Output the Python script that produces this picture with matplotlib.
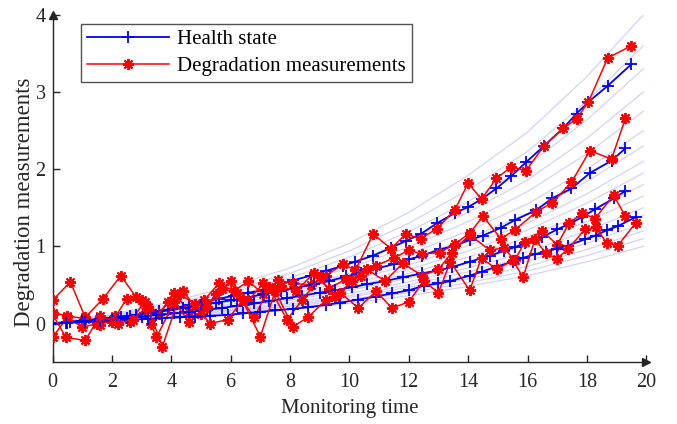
import matplotlib.pyplot as plt

plt.rcParams['font.family'] = ['Liberation Serif', 'DejaVu Serif']

# Faint simulated paths (sampled every 2 time units)
t_faint = [0, 2, 4, 6, 8, 10, 12, 14, 16, 18, 19.9]
faint_paths = [
    [0, .12, .28, .48, .72, 1.04, 1.44, 1.92, 2.48, 3.2, 4.0],
    [0, .11, .25, .43, .65, .94, 1.30, 1.73, 2.23, 2.88, 3.6],
    [0, .10, .23, .40, .59, .86, 1.19, 1.58, 2.05, 2.64, 3.3],
    [0, .09, .21, .36, .54, .78, 1.08, 1.44, 1.86, 2.4, 3.0],
    [0, .08, .19, .33, .50, .72, .99, 1.32, 1.71, 2.2, 2.75],
    [0, .08, .18, .30, .45, .65, .90, 1.20, 1.55, 2.0, 2.5],
    [0, .07, .16, .28, .41, .60, .83, 1.10, 1.43, 1.84, 2.3],
    [0, .06, .15, .25, .38, .55, .76, 1.01, 1.30, 1.68, 2.1],
    [0, .06, .14, .23, .35, .51, .70, .94, 1.21, 1.56, 1.95],
    [0, .05, .13, .22, .32, .47, .65, .86, 1.12, 1.44, 1.8],
    [0, .05, .12, .20, .30, .43, .59, .79, 1.02, 1.32, 1.65],
    [0, .05, .11, .18, .27, .39, .54, .72, .93, 1.2, 1.5],
    [0, .04, .10, .17, .25, .36, .50, .67, .87, 1.12, 1.4],
    [0, .04, .09, .16, .23, .34, .47, .62, .81, 1.04, 1.3],
    [0, .04, .08, .14, .22, .31, .43, .58, .74, .96, 1.2],
    [0, .03, .08, .13, .20, .29, .40, .53, .68, .88, 1.1],
    [0, .03, .07, .12, .18, .26, .36, .48, .62, .80, 1.0],
]

# Unit A
t_A = [0, 0.5, 1.1, 1.6, 2.1, 2.6, 3.1, 3.6, 4.1, 4.6, 5.1, 5.6, 6.1, 6.6, 7.1, 7.6, 8.1, 8.7, 9.2, 9.8,
       10.2, 10.8, 11.4, 11.9, 12.4, 12.95, 13.55, 14.0, 14.45, 14.95, 15.45, 15.95, 16.55, 17.2, 17.65, 18.05, 18.7, 19.5]
health_A = [0, .02, .04, .06, .08, .10, .13, .16, .20, .24, .28, .32, .36, .40, .43, .49, .56, .62, .68, .75,
            .80, .88, .98, 1.07, 1.16, 1.30, 1.43, 1.51, 1.61, 1.75, 1.91, 2.09, 2.30, 2.53, 2.72, 2.87, 3.08, 3.36]
meas_A = [0.14, 0.10, 0.06, -0.02, 0.10, 0.02, 0.28, 0.12, 0.40, 0.15, 0.30, 0.52, 0.42, 0.55, 0.38, 0.56, 0.52, 0.50, 0.62, 0.77,
          0.69, 1.16, 0.97, 1.16, 1.10, 1.23, 1.47, 1.82, 1.61, 1.88, 2.03, 1.98, 2.30, 2.53, 2.65, 2.87, 3.44, 3.60]

# Unit B
t_B = [0, 0.6, 1.1, 1.7, 2.3, 2.8, 3.3, 3.9, 4.4, 5.0, 5.5, 6.0, 6.6, 7.1, 7.7, 8.2, 8.8, 9.3, 9.9, 10.4,
       10.9, 11.5, 12.0, 12.45, 13.05, 13.55, 14.05, 14.5, 15.1, 15.57, 16.3, 16.82, 17.48, 18.1, 18.83, 19.3]
health_B = [0, .02, .04, .06, .09, .11, .14, .17, .20, .24, .27, .30, .34, .38, .42, .46, .51, .55, .61, .66,
            .71, .77, .83, .88, .96, 1.01, 1.08, 1.14, 1.24, 1.34, 1.47, 1.62, 1.75, 1.95, 2.11, 2.27]
meas_B = [0.30, 0.54, 0.08, 0.32, 0.62, 0.35, 0.0, 0.28, 0.42, 0.12, 0.38, 0.55, 0.30, 0.52, 0.48, 0.42, 0.65, 0.45, 0.58, 0.62,
          0.75, 0.85, 0.95, 0.90, 0.92, 1.03, 1.17, 1.39, 1.10, 1.21, 1.45, 1.56, 1.83, 2.24, 2.13, 2.66]

# Unit C
t_C = [0, 0.5, 1.0, 1.5, 2.0, 2.5, 3.0, 3.5, 4.1, 4.6, 5.2, 5.7, 6.2, 6.8, 7.3, 7.9, 8.4, 9.0, 9.5, 10.1,
       10.6, 11.2, 11.8, 12.45, 13.0, 13.45, 14.05, 14.73, 15.2, 15.57, 15.9, 16.5, 17.0, 17.4, 17.85, 18.27, 18.9, 19.3]
health_C = [0, .01, .03, .04, .05, .07, .09, .11, .13, .15, .18, .20, .23, .26, .29, .33, .36, .40, .43, .47,
            .51, .55, .60, .65, .69, .73, .80, .88, .94, .99, 1.04, 1.12, 1.22, 1.29, 1.38, 1.48, 1.62, 1.72]
meas_C = [-0.18, 0.08, -0.05, 0.0, 0.02, 0.32, 0.30, -0.18, 0.28, 0.02, 0.22, 0.45, 0.40, 0.08, 0.47, 0.05, 0.30, 0.60, 0.35, 0.55,
          0.70, 0.55, 0.78, 0.62, 0.70, 0.92, 1.15, 0.95, 0.98, 0.82, 1.05, 1.20, 1.02, 1.30, 1.43, 1.36, 1.66, 1.39]

# Unit D
t_D = [0, 0.45, 1.1, 1.6, 2.2, 2.7, 3.2, 3.7, 4.3, 4.8, 5.3, 5.9, 6.4, 7.0, 7.5, 8.1, 8.6, 9.2, 9.7, 10.3,
       10.9, 11.43, 12.0, 12.5, 13.0, 13.4, 14.05, 14.45, 14.97, 15.5, 15.85, 16.25, 16.62, 16.98, 17.36, 17.93, 18.3, 18.67, 19.04, 19.64]
health_D = [0, .01, .02, .03, .04, .05, .06, .07, .08, .09, .10, .11, .13, .15, .17, .19, .21, .24, .27, .31,
            .35, .39, .43, .49, .52, .55, .62, .67, .74, .80, .85, .90, .93, .97, 1.01, 1.09, 1.14, 1.21, 1.26, 1.38]
meas_D = [0.12, -0.18, -0.22, 0.1, 0.0, 0.05, 0.22, -0.30, 0.38, 0.25, 0.0, 0.05, 0.30, -0.17, 0.42, -0.04, 0.08, 0.30, 0.40, 0.20,
          0.42, 0.20, 0.28, 0.55, 0.40, 0.80, 0.43, 0.85, 0.70, 0.82, 0.60, 1.09, 0.91, 0.84, 0.96, 1.22, 1.25, 1.04, 1.01, 1.30]

units = [(t_A, health_A, meas_A), (t_B, health_B, meas_B),
         (t_C, health_C, meas_C), (t_D, health_D, meas_D)]

fig = plt.figure(figsize=(6.77, 4.24), dpi=100)
ax = fig.add_axes([0.0776, 0.146, 0.877, 0.819])

for path in faint_paths:
    ax.plot(t_faint, path, color='#c8c8f4', lw=0.9, alpha=0.8, zorder=1)

star = (8, 2, 0)
for i, (t, h, m) in enumerate(units):
    ax.plot(t, h, color='#0000ff', lw=1.3, marker='+', ms=9, mew=1.3, zorder=3,
            label='Health state' if i == 0 else None)
    ax.plot(t, m, color='#ff0000', lw=1.1, marker=star, ms=8, mew=1.4, zorder=3,
            label='Degradation measurements' if i == 0 else None)

ax.set_xlim(0, 20)
ax.set_ylim(-0.5, 4)
ax.set_xticks(range(0, 21, 2))
ax.set_yticks([0, 1, 2, 3, 4])
ax.spines['top'].set_visible(False)
ax.spines['right'].set_visible(False)
for s in ('left', 'bottom'):
    ax.spines[s].set_color('#262626')
    ax.spines[s].set_linewidth(1.0)
ax.tick_params(direction='in', length=5, width=1.0, colors='#262626', labelsize=14.5,
               labelcolor='#262626', pad=5)
ax.tick_params(axis='x', pad=8)

# arrow heads at axis ends
ax.plot(1, 0, '>', color='#262626', ms=6, transform=ax.transAxes, clip_on=False)
ax.plot(0, 1, '^', color='#262626', ms=6, transform=ax.transAxes, clip_on=False)

ax.set_xlabel('Monitoring time', fontsize=15, color='#262626', labelpad=5)
ax.set_ylabel('Degradation measurements', fontsize=16.5, color='#262626')
ax.yaxis.set_label_coords(-0.03, 0.46)

leg = ax.legend(loc='upper left', bbox_to_anchor=(0.048, 0.975), fontsize=15, frameon=True,
                fancybox=False, edgecolor='#262626', handlelength=3.9, borderpad=0.3,
                labelspacing=0.35, handletextpad=0.4, borderaxespad=0)
leg.get_frame().set_linewidth(1.0)

fig.savefig('out.png', dpi=100)
